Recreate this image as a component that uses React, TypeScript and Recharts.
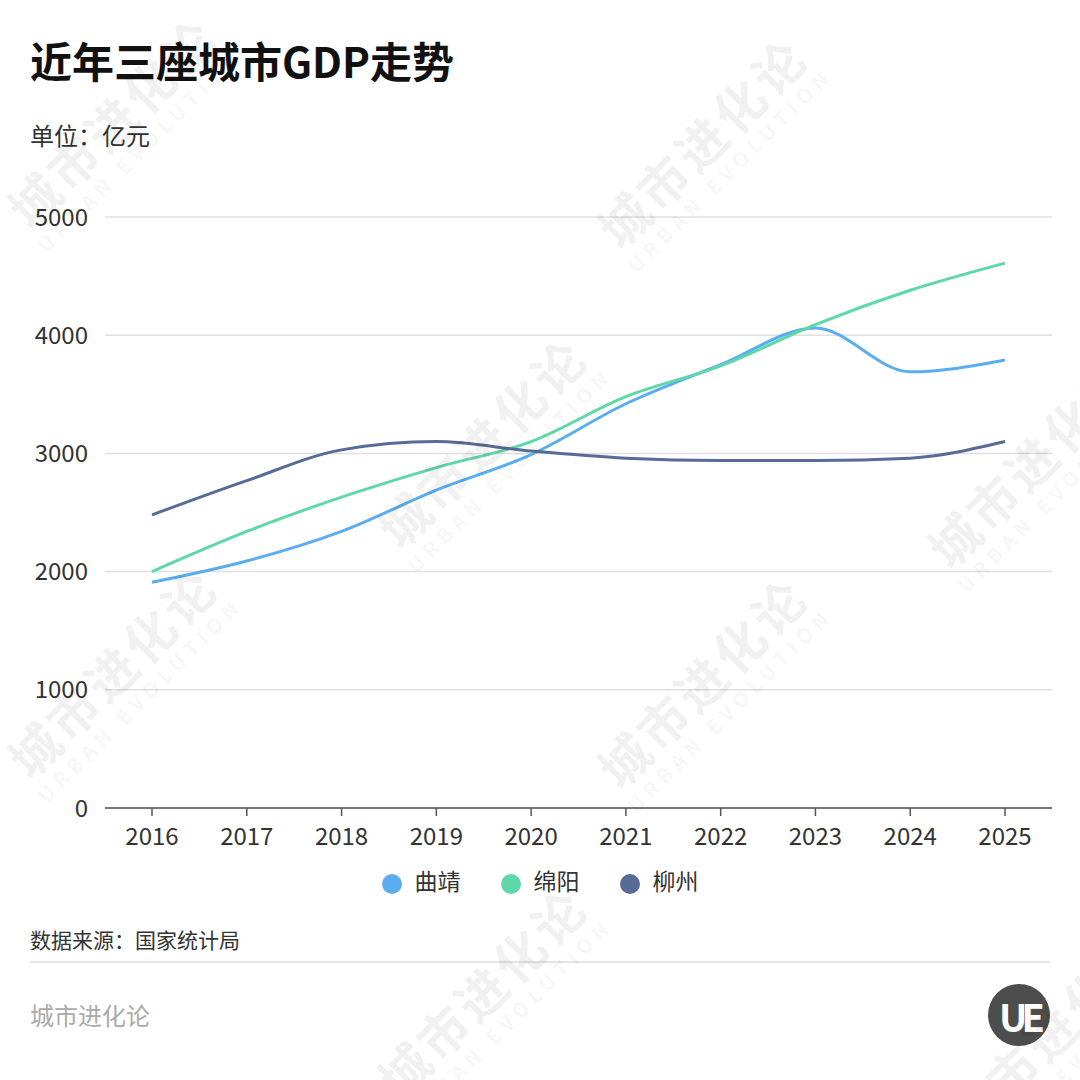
import { LineChart, Line, XAxis, YAxis, CartesianGrid, Legend } from "recharts";

const years = ["2016", "2017", "2018", "2019", "2020", "2021", "2022", "2023", "2024", "2025"];
const cities = ["曲靖", "绵阳", "柳州"];
const qujing = [1910, 2090, 2340, 2690, 2990, 3420, 3750, 4060, 3690, 3790];
const mianyang = [2000, 2340, 2630, 2880, 3100, 3480, 3740, 4090, 4380, 4610];
const liuzhou = [2480, 2770, 3030, 3100, 3020, 2960, 2940, 2940, 2960, 3100];
const yTicks = [0, 1000, 2000, 3000, 4000, 5000];

const data = years.map((year, i) => ({
  year,
  曲靖: qujing[i],
  绵阳: mianyang[i],
  柳州: liuzhou[i],
}));

const FONT = '"Noto Sans CJK SC", "Noto Sans", sans-serif';

// faint diagonal watermark
function Mark({ x, y }: { x: number; y: number }) {
  return (
    <div
      style={{
        position: "absolute",
        left: x,
        top: y,
        transform: "translate(-50%, -50%) rotate(-45deg)",
        color: "rgba(0,0,0,0.055)",
        textAlign: "center",
        pointerEvents: "none",
        whiteSpace: "nowrap",
        lineHeight: 1,
      }}
    >
      <div style={{ fontSize: 50, fontWeight: 700, letterSpacing: 4 }}>城市进化论</div>
      <div style={{ fontSize: 20, fontWeight: 700, letterSpacing: 6, marginTop: 6 }}>URBAN EVOLUTION</div>
    </div>
  );
}

export default function App() {
  return (
    <div
      style={{
        position: "absolute",
        top: 0,
        left: 0,
        width: 1080,
        height: 1080,
        background: "#fff",
        fontFamily: FONT,
        overflow: "hidden",
      }}
    >
      <div style={{ position: "absolute", left: 30, top: 29, fontSize: 42, fontWeight: 700, color: "#111" }}>
        近年三座城市GDP走势
      </div>
      <div style={{ position: "absolute", left: 30, top: 117, fontSize: 24, color: "#333" }}>单位：亿元</div>

      <div style={{ position: "absolute", left: 0, top: 0 }}>
        <LineChart width={1080} height={900} data={data} margin={{ top: 217, right: 28, left: 0, bottom: 3 }}>
          <CartesianGrid vertical={false} stroke="#e0e0e0" strokeWidth={1.5} />
          <XAxis
            dataKey="year"
            height={55}
            padding={{ left: 47, right: 47 }}
            stroke="#555"
            strokeWidth={1.5}
            tickSize={8}
            tickMargin={12}
            tick={{ fill: "#333", fontSize: 24, fontFamily: FONT }}
          />
          <YAxis
            width={105}
            domain={[0, 5000]}
            ticks={yTicks}
            axisLine={false}
            tickLine={false}
            tickMargin={11}
            tick={{ fill: "#333", fontSize: 24, fontFamily: FONT }}
          />
          <Legend
            verticalAlign="bottom"
            iconType="circle"
            iconSize={20}
            itemSorter={(item: any) => cities.indexOf(item.value)}
            wrapperStyle={{ left: 20, width: 1080, fontSize: 23, fontFamily: FONT }}
            formatter={(value) => (
              <span style={{ color: "#333", marginLeft: 9, marginRight: 30 }}>{value}</span>
            )}
          />
          <Line type="monotone" dataKey="曲靖" stroke="#5aaef0" strokeWidth={3} dot={false} isAnimationActive={false} />
          <Line type="monotone" dataKey="绵阳" stroke="#5ed8a9" strokeWidth={3} dot={false} isAnimationActive={false} />
          <Line type="monotone" dataKey="柳州" stroke="#566b95" strokeWidth={3} dot={false} isAnimationActive={false} />
        </LineChart>
      </div>

      <div style={{ position: "absolute", left: 30, top: 924, fontSize: 21, color: "#333" }}>数据来源：国家统计局</div>
      <div style={{ position: "absolute", left: 30, top: 961, width: 1020, height: 2, background: "#e3e3e3" }} />
      <div style={{ position: "absolute", left: 30, top: 997, fontSize: 24, color: "#aaa" }}>城市进化论</div>
      <div
        style={{
          position: "absolute",
          left: 988,
          top: 984,
          width: 62,
          height: 62,
          borderRadius: "50%",
          background: "#4d4d4d",
          color: "#fff",
          fontSize: 38,
          fontWeight: 700,
          display: "flex",
          alignItems: "center",
          justifyContent: "center",
          letterSpacing: -6,
        }}
      >
        UE
      </div>

      <Mark x={120} y={130} />
      <Mark x={710} y={150} />
      <Mark x={490} y={450} />
      <Mark x={1040} y={470} />
      <Mark x={120} y={680} />
      <Mark x={710} y={690} />
      <Mark x={490} y={1000} />
      <Mark x={1060} y={1040} />
    </div>
  );
}
